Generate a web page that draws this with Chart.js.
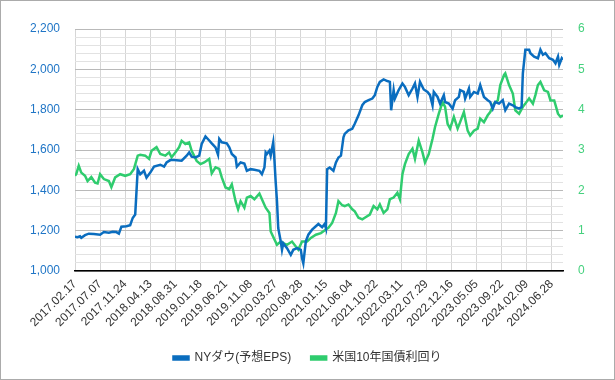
<!DOCTYPE html>
<html>
<head>
<meta charset="utf-8">
<script src="https://cdn.jsdelivr.net/npm/chart.js@4"></script>
<style>
html,body{margin:0;padding:0;background:#fff;}
#wrap{width:615px;height:380px;position:relative;}
</style>
</head>
<body>
<div id="wrap"><canvas id="c" width="615" height="380"></canvas></div>
<script>
// x tick labels every 20 weeks
const tickLabels = ["2017.02.17","2017.07.07","2017.11.24","2018.04.13","2018.08.31","2019.01.18","2019.06.21","2019.11.08","2020.03.27","2020.08.28","2021.01.15","2021.06.04","2021.10.22","2022.03.11","2022.07.29","2022.12.16","2023.05.05","2023.09.22","2024.02.09","2024.06.28"];

const seriesNames = ["NYダウ(予想EPS)", "米国10年国債利回り"];

// NY Dow forward EPS: week index from 2017.02.17 and value
const epsWeeks = [0,2,4,5,8,11,15,20,23,27,30,33,35,37,41,44,46,48,50,52,55,57,60,63,68,71,73,76,79,85,89,91,93,96,99,101,104,107,109,112,114,115,117,121,123,125,128,129,132,135,137,140,143,147,149,151,152,153,155,156,158,159,160,161,162,164,165,166,169,172,174,177,180,181,182,184,186,189,192,194,197,199,200,201,203,206,208,210,212,214,215,218,221,223,226,229,231,234,237,239,241,243,246,249,251,252,254,255,258,261,263,266,269,271,273,275,278,281,283,285,286,289,291,294,295,298,301,303,306,307,310,311,314,315,318,321,323,326,329,331,333,335,338,341,343,346,349,351,354,356,357,359,362,363,366,369,371,373,375,378,381,383,385,386,388,389];
const epsValues = [1170,1168,1172,1165,1178,1185,1183,1180,1193,1190,1195,1193,1185,1220,1222,1227,1263,1280,1505,1480,1497,1463,1488,1518,1527,1518,1538,1550,1550,1547,1572,1588,1567,1563,1572,1630,1667,1647,1633,1613,1577,1655,1638,1633,1613,1580,1563,1517,1538,1533,1497,1505,1502,1497,1480,1513,1588,1580,1597,1572,1638,1547,1438,1347,1213,1147,1105,1138,1113,1080,1105,1113,1105,1063,1038,1147,1180,1205,1222,1233,1217,1233,1213,1505,1513,1497,1538,1563,1572,1663,1680,1697,1705,1730,1772,1822,1838,1847,1855,1872,1913,1938,1950,1942,1938,1797,1897,1855,1897,1930,1913,1872,1905,1930,1863,1938,1900,1888,1872,1822,1888,1863,1830,1872,1838,1830,1805,1847,1863,1897,1888,1855,1905,1863,1888,1880,1922,1863,1847,1838,1805,1838,1830,1847,1797,1830,1822,1813,1805,1813,1980,2097,2097,2080,2063,2055,2097,2072,2080,2055,2047,2030,2063,2022,2055,2047];

// US 10-year treasury yield (%)
const yieldWeeks = [0,1,3,5,8,10,13,16,18,20,23,27,29,32,36,40,44,47,50,52,56,59,61,65,68,72,75,77,80,83,85,88,91,93,97,100,103,107,109,112,115,117,120,123,125,128,130,132,135,137,140,143,147,149,152,155,156,159,161,164,166,169,173,176,178,181,185,188,192,196,200,202,205,208,210,213,215,218,221,223,226,229,231,235,238,241,243,246,249,251,254,257,259,261,263,266,269,271,274,277,279,282,285,287,290,293,295,297,299,302,305,307,310,313,315,318,321,323,326,329,331,334,337,339,342,343,346,349,351,354,357,359,362,365,367,369,371,374,377,379,382,385,387,389];
const yieldValues = [2.36,2.40,2.61,2.44,2.36,2.23,2.33,2.19,2.17,2.40,2.28,2.23,2.08,2.32,2.40,2.36,2.40,2.53,2.86,2.88,2.86,2.78,2.98,3.07,2.90,2.86,2.94,2.82,2.94,3.07,3.23,3.15,3.19,2.98,2.73,2.65,2.69,2.78,2.42,2.57,2.53,2.32,2.07,2.03,2.15,1.73,1.53,1.73,1.57,1.82,1.86,1.78,1.92,1.78,1.57,1.44,0.98,0.78,0.65,0.73,0.69,0.65,0.73,0.61,0.53,0.73,0.73,0.82,0.90,0.94,1.03,1.07,1.19,1.44,1.73,1.63,1.61,1.65,1.53,1.48,1.32,1.28,1.32,1.40,1.61,1.53,1.65,1.44,1.53,1.78,1.82,1.94,1.78,2.40,2.65,2.90,3.03,2.78,3.23,2.94,2.69,2.90,3.28,3.57,3.90,4.19,4.07,3.65,3.53,3.82,3.53,3.69,3.94,3.48,3.36,3.48,3.53,3.78,3.69,3.86,3.94,4.15,4.23,4.61,4.86,4.90,4.61,4.40,3.98,3.90,4.07,4.15,4.28,4.15,4.36,4.61,4.69,4.48,4.44,4.23,4.23,3.90,3.82,3.86];

const FONT = "'Liberation Sans', Arial, 'Noto Sans CJK JP', sans-serif";
const BLUE = '#0a6dbf';
const GREEN = '#2fcc6e';

const toPts = (xs, ys) => xs.map((x, i) => ({x: x, y: ys[i]}));

const borderPlugin = {
  id: 'outerBorder',
  beforeDraw(chart) {
    const c = chart.ctx;
    c.save();
    c.fillStyle = '#fff';
    c.fillRect(0, 0, chart.width, chart.height);
    c.restore();
  },
  afterDraw(chart) {
    const c = chart.ctx;
    c.save();
    c.strokeStyle = '#ababab';
    c.lineWidth = 1;
    c.strokeRect(0.5, 0.5, chart.width - 1, chart.height - 1);
    c.restore();
  }
};

new Chart(document.getElementById('c'), {
  type: 'line',
  data: {
    datasets: [
      {label: seriesNames[0], data: toPts(epsWeeks, epsValues), yAxisID: 'yL', borderColor: BLUE, backgroundColor: BLUE, borderWidth: 2.5, pointRadius: 0, tension: 0},
      {label: seriesNames[1], data: toPts(yieldWeeks, yieldValues), yAxisID: 'yR', borderColor: GREEN, backgroundColor: GREEN, borderWidth: 2.5, pointRadius: 0, tension: 0}
    ]
  },
  options: {
    responsive: false,
    animation: false,
    layout: {padding: {top: 29, left: 0, right: 0, bottom: 6}},
    plugins: {
      tooltip: {enabled: false},
      legend: {
        position: 'bottom',
        labels: {boxWidth: 15, boxHeight: 3, padding: 20, color: '#333', font: {family: FONT, size: 12}}
      }
    },
    scales: {
      x: {
        type: 'linear', min: 0, max: 389,
        afterBuildTicks: (s) => { s.ticks = tickLabels.map((_, i) => ({value: i * 20})); },
        afterFit: (s) => { s.height = 61; },
        ticks: {
          stepSize: 20, autoSkip: false, includeBounds: false, minRotation: 45, maxRotation: 45, padding: 6,
          color: '#333', font: {family: FONT, size: 12},
          callback: (v) => { const i = Math.round(v / 20); return tickLabels[i] || ''; }
        },
        grid: {color: '#d6d6d6', lineWidth: 1, drawTicks: false},
        border: {display: true, color: '#000', width: 1.5}
      },
      yL: {
        position: 'left', min: 1000, max: 2200,
        afterFit: (s) => { s.width = 75; },
        ticks: {
          stepSize: 40, padding: 15, autoSkip: false, color: '#1f75c6', font: {family: FONT, size: 12},
          callback: (v) => (v % 200 === 0) ? v.toLocaleString('en-US') : ''
        },
        grid: {drawTicks: false, color: (ctx) => (ctx.tick && ctx.tick.value % 200 === 0) ? '#b9b9b9' : '#e2e2e2'},
        border: {display: false}
      },
      yR: {
        position: 'right', min: 0, max: 6,
        afterFit: (s) => { s.width = 52; },
        ticks: {stepSize: 1, padding: 15, color: '#45d17e', font: {family: FONT, size: 12}},
        grid: {display: false, drawTicks: false},
        border: {display: false}
      }
    }
  },
  plugins: [borderPlugin]
});
</script>
</body>
</html>
